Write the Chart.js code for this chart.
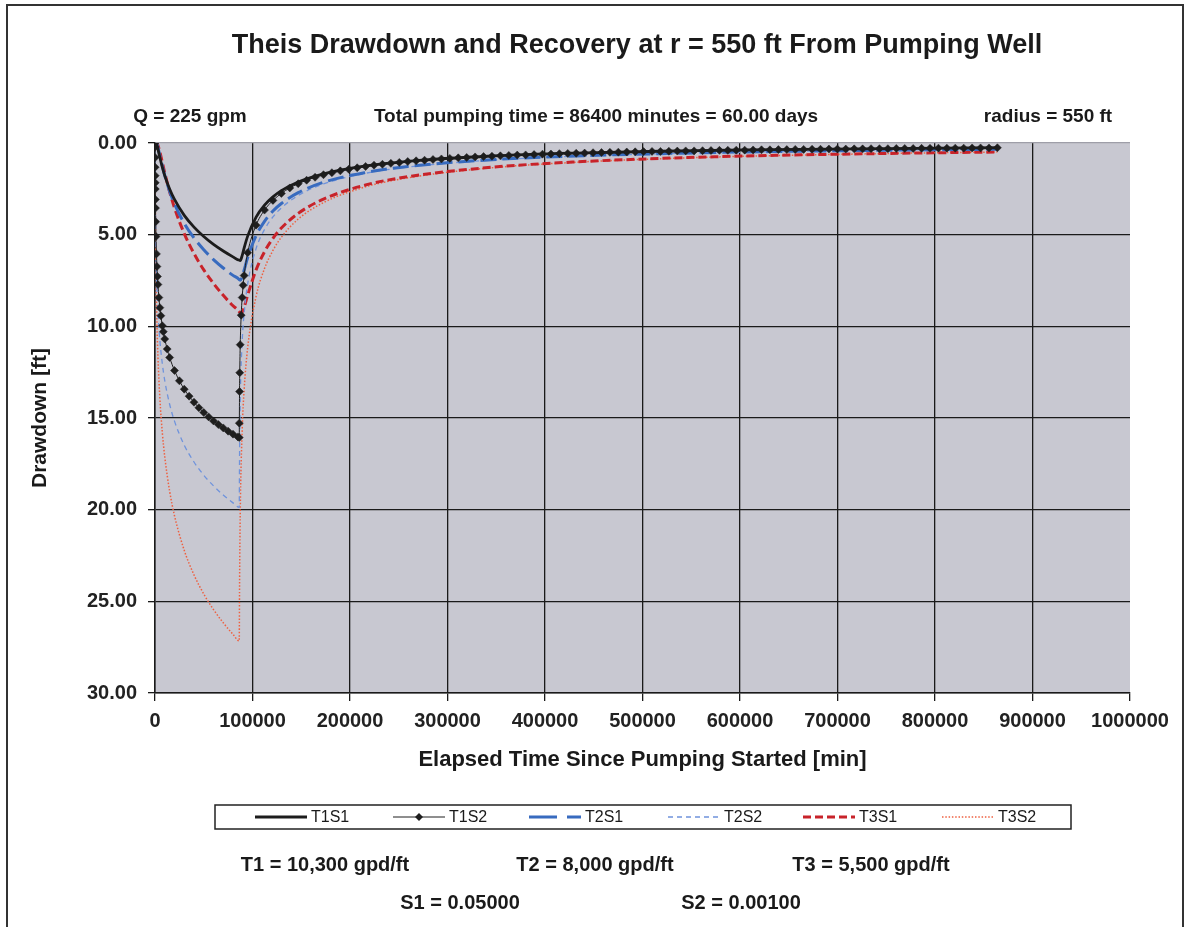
<!DOCTYPE html>
<html>
<head>
<meta charset="utf-8">
<title>Theis Drawdown and Recovery</title>
<script src="https://cdn.jsdelivr.net/npm/chart.js@4.4.1/dist/chart.umd.min.js"></script>
<style>
  html, body { margin: 0; padding: 0; background: #fff; }
  canvas { display: block; }
</style>
</head>
<body>
<canvas id="myChart" width="1186" height="927"></canvas>
<script>
// elapsed time [min] - pumping phase and recovery phase (pumping stops at 86400 min)
const pumpTimes = [0, 100, 200, 300, 500, 1000, 2000, 3000, 5000, 7500, 10000, 15000, 20000, 30000, 40000, 50000, 60000, 70000, 80000, 86400];
const recoveryTimes = [86500, 86700, 87400, 89400, 91400, 95040, 103680, 112320, 120960, 129600, 146880, 172800, 216000, 259200, 345600, 432000, 518400, 604800, 691200, 777600, 864000];

// T1S2 is plotted with markers, so it has its own (denser) time steps
const pumpTimesT1S2 = [0, 50, 100, 150, 200, 250, 300, 400, 500, 700, 1000, 1500, 2000, 2500, 3000, 4000, 5000, 6000, 7500, 8500, 10000, 12500, 15000, 20000, 25000, 30000, 35000, 40000, 45000, 50000, 55000, 60000, 65000, 70000, 75000, 80000, 85000, 86400];
const recoveryTimesT1S2 = [86500, 86700, 86900, 87400, 88400, 89400, 90400, 91400,
  95040, 103680, 112320, 120960, 129600, 138240, 146880, 155520, 164160, 172800,
  181440, 190080, 198720, 207360, 216000, 224640, 233280, 241920, 250560, 259200,
  267840, 276480, 285120, 293760, 302400, 311040, 319680, 328320, 336960, 345600,
  354240, 362880, 371520, 380160, 388800, 397440, 406080, 414720, 423360, 432000,
  440640, 449280, 457920, 466560, 475200, 483840, 492480, 501120, 509760, 518400,
  527040, 535680, 544320, 552960, 561600, 570240, 578880, 587520, 596160, 604800,
  613440, 622080, 630720, 639360, 648000, 656640, 665280, 673920, 682560, 691200,
  699840, 708480, 717120, 725760, 734400, 743040, 751680, 760320, 768960, 777600,
  786240, 794880, 803520, 812160, 820800, 829440, 838080, 846720, 855360, 864000];

// drawdown [ft]
const t1s1Pump = [0, 0, 0, 0, 0, 0.01, 0.13, 0.33, 0.79, 1.32, 1.78, 2.51, 3.08, 3.95, 4.59, 5.10, 5.53, 5.89, 6.21, 6.39];
const t1s1Rec = [6.39, 6.40, 6.41, 6.14, 5.73, 5.08, 4.04, 3.39, 2.94, 2.60, 2.13, 1.68, 1.25, 1.00, 0.71, 0.55, 0.45, 0.38, 0.33, 0.29, 0.26];

const t1s2Pump = [0, 0.22, 0.79, 1.32, 1.78, 2.17, 2.51, 3.08, 3.55, 4.29, 5.10, 6.05, 6.74, 7.28, 7.72, 8.43, 8.98, 9.42, 9.97, 10.29, 10.69, 11.24, 11.70, 12.41, 12.97, 13.43, 13.81, 14.14, 14.44, 14.70, 14.94, 15.16, 15.36, 15.54, 15.72, 15.88, 16.03, 16.07];
const t1s2Rec = [15.28, 13.56, 12.53, 11.00, 9.39, 8.43, 7.76, 7.23,
  5.98, 4.48, 3.66, 3.13, 2.75, 2.45, 2.22, 2.03, 1.87, 1.73,
  1.62, 1.52, 1.43, 1.35, 1.28, 1.21, 1.16, 1.11, 1.06, 1.01,
  0.97, 0.94, 0.90, 0.87, 0.84, 0.81, 0.79, 0.76, 0.74, 0.72,
  0.70, 0.68, 0.66, 0.65, 0.63, 0.61, 0.60, 0.58, 0.57, 0.56,
  0.55, 0.53, 0.52, 0.51, 0.50, 0.49, 0.48, 0.47, 0.46, 0.46,
  0.45, 0.44, 0.43, 0.43, 0.42, 0.41, 0.40, 0.40, 0.39, 0.39,
  0.38, 0.37, 0.37, 0.36, 0.36, 0.35, 0.35, 0.34, 0.34, 0.33,
  0.33, 0.33, 0.32, 0.32, 0.31, 0.31, 0.31, 0.30, 0.30, 0.30,
  0.29, 0.29, 0.28, 0.28, 0.28, 0.28, 0.27, 0.27, 0.27, 0.26];

const t2s1Pump = [0, 0, 0, 0, 0, 0, 0.08, 0.24, 0.69, 1.25, 1.77, 2.63, 3.32, 4.38, 5.18, 5.82, 6.36, 6.82, 7.22, 7.45];
const t2s1Rec = [7.46, 7.46, 7.48, 7.31, 6.94, 6.25, 5.05, 4.27, 3.71, 3.30, 2.71, 2.14, 1.61, 1.28, 0.91, 0.71, 0.58, 0.49, 0.43, 0.38, 0.34];

const t2s2Pump = [0, 0.69, 1.77, 2.63, 3.89, 5.82, 7.90, 9.15, 10.76, 12.04, 12.96, 14.25, 15.17, 16.48, 17.40, 18.12, 18.70, 19.20, 19.63, 19.88];
const t2s2Rec = [19.20, 17.26, 14.09, 10.84, 9.30, 7.69, 5.76, 4.72, 4.03, 3.54, 2.86, 2.23, 1.65, 1.31, 0.93, 0.72, 0.59, 0.50, 0.43, 0.38, 0.34];

const t3s1Pump = [0, 0, 0, 0, 0, 0, 0.03, 0.12, 0.48, 1.05, 1.63, 2.66, 3.54, 4.94, 6.03, 6.92, 7.66, 8.31, 8.88, 9.20];
const t3s1Rec = [9.21, 9.22, 9.25, 9.23, 8.97, 8.30, 6.92, 5.93, 5.20, 4.64, 3.84, 3.06, 2.29, 1.84, 1.32, 1.03, 0.84, 0.71, 0.62, 0.55, 0.49];

const t3s2Pump = [0, 0.48, 1.63, 2.66, 4.29, 6.92, 9.84, 11.63, 13.93, 15.79, 17.11, 18.99, 20.33, 22.22, 23.56, 24.60, 25.45, 26.17, 26.80, 27.16];
const t3s2Rec = [26.68, 24.51, 20.30, 15.69, 13.49, 11.17, 8.37, 6.85, 5.86, 5.14, 4.15, 3.25, 2.39, 1.90, 1.35, 1.05, 0.86, 0.72, 0.63, 0.55, 0.49];

const seriesNames = ['T1S1', 'T1S2', 'T2S1', 'T2S2', 'T3S1', 'T3S2'];

const chartTitle = 'Theis Drawdown and Recovery at r = 550 ft From Pumping Well';
const topNotes = ['Q = 225 gpm', 'Total pumping time = 86400 minutes = 60.00 days', 'radius = 550 ft'];
const transNotes = ['T1 = 10,300 gpd/ft', 'T2 = 8,000 gpd/ft', 'T3 = 5,500 gpd/ft'];
const storNotes = ['S1 = 0.05000', 'S2 = 0.00100'];

Chart.defaults.font.family = "'Liberation Sans', Arial, sans-serif";

function pts(xs, ys) {
    return xs.map((x, i) => ({ x: x, y: ys[i] }));
}

// line look for each series (used for the plot and the legend)
const styles = {
    T1S1: { color: '#1c1c1c', width: 2.8, dash: [] },
    T1S2: { color: '#1e1e1e', width: 1, dash: [] },
    T2S1: { color: '#386bbf', width: 3, dash: [16, 6] },
    T2S2: { color: '#6f93dc', width: 1.3, dash: [5, 4] },
    T3S1: { color: '#c8232a', width: 3, dash: [8, 4] },
    T3S2: { color: '#ee6040', width: 1.5, dash: [1.5, 1.8] }
};

function lineSet(name, data) {
    const s = styles[name];
    return {
        label: name,
        data: data,
        borderColor: s.color,
        borderWidth: s.width,
        borderDash: s.dash,
        pointRadius: 0,
        fill: false,
        cubicInterpolationMode: 'monotone'
    };
}

const datasets = [
    lineSet('T1S1', pts(pumpTimes, t1s1Pump).concat(pts(recoveryTimes, t1s1Rec))),
    Object.assign(lineSet('T1S2', pts(pumpTimesT1S2, t1s2Pump).concat(pts(recoveryTimesT1S2, t1s2Rec))), {
        pointRadius: 4,
        pointStyle: 'rectRot',
        pointBackgroundColor: '#1e1e1e',
        pointBorderColor: '#1e1e1e',
        pointBorderWidth: 0.5
    }),
    lineSet('T2S1', pts(pumpTimes, t2s1Pump).concat(pts(recoveryTimes, t2s1Rec))),
    lineSet('T2S2', pts(pumpTimes, t2s2Pump).concat(pts(recoveryTimes, t2s2Rec))),
    lineSet('T3S1', pts(pumpTimes, t3s1Pump).concat(pts(recoveryTimes, t3s1Rec))),
    lineSet('T3S2', pts(pumpTimes, t3s2Pump).concat(pts(recoveryTimes, t3s2Rec)))
];

// background, frame, title, notes and the boxed legend
const decorations = {
    id: 'decorations',
    beforeDraw: (chart) => {
        const c = chart.ctx, a = chart.chartArea;
        c.save();
        c.fillStyle = '#ffffff';
        c.fillRect(0, 0, chart.width, chart.height);
        c.fillStyle = '#c8c8d1';
        c.fillRect(a.left, a.top, a.right - a.left, a.bottom - a.top);
        c.restore();
    },
    afterDraw: (chart) => {
        const c = chart.ctx;
        c.save();

        // outer frame
        c.strokeStyle = '#333';
        c.lineWidth = 2;
        c.strokeRect(7, 5, 1176, 940);

        c.fillStyle = '#1a1a1a';
        c.textAlign = 'center';
        c.textBaseline = 'middle';

        c.font = "bold 27px 'Liberation Sans', Arial, sans-serif";
        c.fillText(chartTitle, 637, 46);

        c.font = "bold 19px 'Liberation Sans', Arial, sans-serif";
        c.fillText(topNotes[0], 190, 117);
        c.fillText(topNotes[1], 596, 117);
        c.fillText(topNotes[2], 1048, 117);

        c.font = "bold 20px 'Liberation Sans', Arial, sans-serif";
        c.fillText(transNotes[0], 325, 865);
        c.fillText(transNotes[1], 595, 865);
        c.fillText(transNotes[2], 871, 865);
        c.fillText(storNotes[0], 460, 903);
        c.fillText(storNotes[1], 741, 903);

        // legend box
        c.strokeStyle = '#222';
        c.lineWidth = 1.5;
        c.strokeRect(215, 805, 856, 24);

        const starts = [255, 393, 529, 668, 803, 942];
        const legendY = 817;
        c.font = "16px 'Liberation Sans', Arial, sans-serif";
        c.textAlign = 'left';
        seriesNames.forEach((name, i) => {
            const s = styles[name];
            const x0 = starts[i], x1 = x0 + 52;
            c.beginPath();
            c.strokeStyle = s.color;
            c.lineWidth = name === 'T1S1' ? 3 : s.width;
            c.setLineDash(name === 'T2S1' ? [28, 10] : s.dash);
            c.moveTo(x0, legendY);
            c.lineTo(x1, legendY);
            c.stroke();
            c.setLineDash([]);
            if (name === 'T1S2') {
                const mx = (x0 + x1) / 2;
                c.fillStyle = s.color;
                c.beginPath();
                c.moveTo(mx, legendY - 4);
                c.lineTo(mx + 4, legendY);
                c.lineTo(mx, legendY + 4);
                c.lineTo(mx - 4, legendY);
                c.closePath();
                c.fill();
            }
            c.fillStyle = '#1a1a1a';
            c.fillText(name, x1 + 4, legendY + 1);
        });

        c.restore();
    }
};

const ctx = document.getElementById('myChart').getContext('2d');

const myChart = new Chart(ctx, {
    type: 'line',
    data: { datasets: datasets },
    options: {
        responsive: false,
        animation: false,
        devicePixelRatio: 1,
        layout: {
            padding: { left: 0, top: 143, right: 56, bottom: 149 }
        },
        plugins: {
            legend: { display: false },
            tooltip: { enabled: false },
            title: { display: false }
        },
        scales: {
            x: {
                type: 'linear',
                min: 0,
                max: 1000000,
                afterFit: (scale) => { scale.height = 85; },
                ticks: {
                    stepSize: 100000,
                    autoSkip: false,
                    maxRotation: 0,
                    padding: 8,
                    color: '#222',
                    font: { size: 20, weight: 'bold' },
                    callback: (v) => String(v)
                },
                grid: {
                    color: (c) => (c.tick && c.tick.value === 1000000) ? 'rgba(0,0,0,0)' : '#1a1a1a',
                    tickColor: '#1a1a1a',
                    lineWidth: 1.3,
                    tickLength: 8
                },
                border: { color: '#1a1a1a', width: 1.5 },
                title: {
                    display: true,
                    text: 'Elapsed Time Since Pumping Started [min]',
                    color: '#1a1a1a',
                    font: { size: 22, weight: 'bold' },
                    padding: { top: 0, bottom: 5 }
                }
            },
            y: {
                type: 'linear',
                reverse: true,
                min: 0,
                max: 30,
                afterFit: (scale) => { scale.width = 155; },
                ticks: {
                    stepSize: 5,
                    padding: 11,
                    color: '#222',
                    font: { size: 20, weight: 'bold' },
                    callback: (v) => v.toFixed(2)
                },
                grid: {
                    color: (c) => (c.tick && c.tick.value === 0) ? '#9e9ea8' : '#1a1a1a',
                    tickColor: '#1a1a1a',
                    lineWidth: 1.3,
                    tickLength: 7
                },
                border: { color: '#1a1a1a', width: 1.5 },
                title: {
                    display: true,
                    text: 'Drawdown [ft]',
                    color: '#1a1a1a',
                    font: { size: 21, weight: 'bold' },
                    padding: { top: 28, bottom: 0 }
                }
            }
        }
    },
    plugins: [decorations]
});
</script>
</body>
</html>
